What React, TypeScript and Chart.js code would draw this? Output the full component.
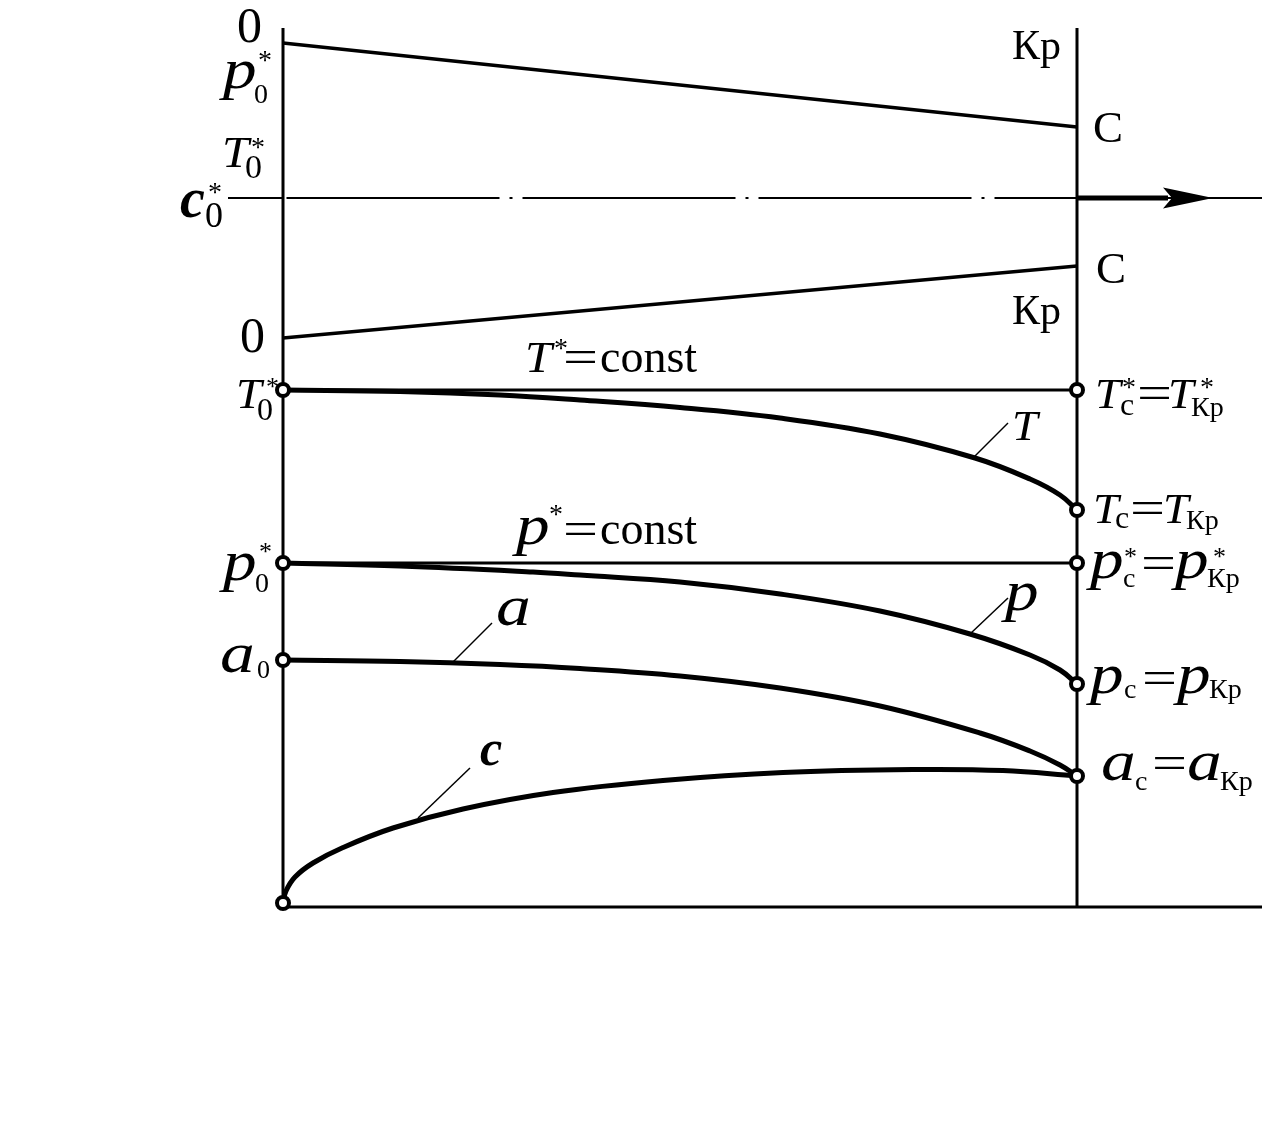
import React, { useEffect, useRef } from 'react';
import { Chart, registerables } from 'chart.js';

Chart.register(...registerables);

// x: distance along the nozzle (0 = inlet section "0", 7.94 = exit section "С" = "Кр")
// y: ordinate of the diagram (0 = base line)
const sectionX = [0, 7.94];
const topWallY = [8.64, 7.8];
const bottomWallY = [5.69, 6.41];
const frameTopY = 8.79;
const axisY = 7.09;
const axisStartX = -0.55;
const axisEndX = 9.79;
const arrowShaftEndX = 8.85;
const arrowHeadX = 9.05;

const tStarY = 5.17;
const tX = [0, 1.17, 2.17, 2.97, 3.97, 4.97, 5.97, 6.92, 7.47, 7.77, 7.94];
const tY = [5.17, 5.155, 5.12, 5.07, 4.995, 4.89, 4.73, 4.49, 4.28, 4.12, 3.97];

const pStarY = 3.44;
const pX = [0, 1.17, 2.5, 2.97, 3.97, 4.97, 5.97, 6.87, 7.47, 7.77, 7.94];
const pY = [3.44, 3.41, 3.35, 3.32, 3.25, 3.13, 2.96, 2.73, 2.52, 2.37, 2.23];

const aX = [0, 1.17, 2.17, 2.97, 3.97, 4.97, 5.97, 6.97, 7.47, 7.77, 7.94];
const aY = [2.47, 2.455, 2.425, 2.385, 2.31, 2.19, 2.01, 1.74, 1.56, 1.42, 1.31];

const cX = [0, 0.03, 0.12, 0.3, 0.6, 1.1, 1.8, 2.7, 3.8, 5.0, 6.3, 7.2, 7.94];
const cY = [0.04, 0.16, 0.3, 0.44, 0.595, 0.79, 0.98, 1.145, 1.265, 1.345, 1.375, 1.365, 1.31];

// leader lines of the curve names: [x0, y0, x1, y1]
const leaderT = [6.9, 4.49, 7.25, 4.84];
const leaderP = [6.87, 2.73, 7.25, 3.09];
const leaderA = [1.7, 2.45, 2.09, 2.84];
const leaderC = [1.35, 0.89, 1.87, 1.39];

type Run = [string, string, number, number, number, number?]; // text, style, size, dx, dy, scaleX
type Label = { x: number; y: number; runs: Run[] };

const EQ = 46;
const EQX = 1.35;
const PS = 56;
const PX = 1.2;
const AS = 58;
const AX = 1.2;
const LABELS: Label[] = [
  { x: -0.46, y: 8.65, runs: [['0', 'r', 50, 0, 0]] },
  { x: -0.6, y: 8.19, runs: [['p', 'i', PS, 0, 0, PX], ['0', 'r', 28, 31, 15], ['*', 'r', 28, 35, -19]] },
  { x: -0.61, y: 7.4, runs: [['T', 'i', 44, 0, 0, 1.1], ['0', 'r', 34, 23, 11], ['*', 'r', 28, 29, -11]] },
  { x: -1.03, y: 6.9, runs: [['c', 'bi', 56, 0, 0], ['0', 'r', 36, 25, 10], ['*', 'r', 28, 28, -16]] },
  { x: 7.29, y: 8.48, runs: [['Кр', 'r', 42, 0, 0]] },
  { x: 8.1, y: 7.65, runs: [['С', 'r', 45, 0, 0]] },
  { x: 8.13, y: 6.24, runs: [['С', 'r', 45, 0, 0]] },
  { x: 7.29, y: 5.83, runs: [['Кр', 'r', 42, 0, 0]] },
  { x: -0.43, y: 5.55, runs: [['0', 'r', 50, 0, 0]] },
  { x: 2.42, y: 5.35, runs: [['T', 'i', 44, 0, 0, 1.1], ['*', 'r', 28, 29, -15], ['=', 'r', EQ, 38, 0, EQX], ['const', 'r', 46, 75, 0]] },
  { x: -0.47, y: 4.99, runs: [['T', 'i', 42, 0, 0, 1.1], ['0', 'r', 32, 21, 12], ['*', 'r', 26, 30, -13]] },
  { x: 8.12, y: 4.99, runs: [['T', 'i', 42, 0, 0, 1.1], ['с', 'r', 32, 25, 7], ['*', 'r', 28, 27, -12], ['=', 'r', EQ, 42, 0, EQX], ['T', 'i', 42, 73, 0, 1.1], ['Кр', 'r', 28, 96, 8], ['*', 'r', 28, 105, -12]] },
  { x: 8.1, y: 3.84, runs: [['T', 'i', 42, 0, 0, 1.1], ['с', 'r', 32, 22, 5], ['=', 'r', EQ, 37, 0, EQX], ['T', 'i', 42, 70, 0, 1.1], ['Кр', 'r', 28, 93, 6]] },
  { x: 7.29, y: 4.67, runs: [['T', 'i', 42, 0, 0, 1.1]] },
  { x: 2.33, y: 3.63, runs: [['p', 'i', PS, 0, 0, PX], ['*', 'r', 28, 33, -21], ['=', 'r', EQ, 47, 0, EQX], ['const', 'r', 46, 84, 0]] },
  { x: -0.6, y: 3.27, runs: [['p', 'i', PS, 0, 0, PX], ['0', 'r', 28, 32, 12], ['*', 'r', 26, 36, -20]] },
  { x: 8.07, y: 3.29, runs: [['p', 'i', PS, 0, 0, PX], ['с', 'r', 28, 33, 9], ['*', 'r', 26, 34, -13], ['=', 'r', EQ, 51, 0, EQX], ['p', 'i', PS, 85, 0, PX], ['Кр', 'r', 28, 117, 9], ['*', 'r', 26, 123, -13]] },
  { x: 7.22, y: 2.97, runs: [['p', 'i', PS, 0, 0, PX]] },
  { x: 2.13, y: 2.82, runs: [['a', 'i', AS, 0, 0, AX]] },
  { x: -0.63, y: 2.35, runs: [['a', 'i', AS, 0, 0, AX], ['0', 'r', 26, 37, 6]] },
  { x: 8.07, y: 2.14, runs: [['p', 'i', PS, 0, 0, PX], ['с', 'r', 28, 34, 5], ['=', 'r', EQ, 52, 0, EQX], ['p', 'i', PS, 87, 0, PX], ['Кр', 'r', 28, 119, 5]] },
  { x: 1.97, y: 1.42, runs: [['c', 'bi', 50, 0, 0]] },
  { x: 8.18, y: 1.27, runs: [['a', 'i', AS, 0, 0, AX], ['с', 'r', 28, 34, 10], ['=', 'r', EQ, 51, -2, EQX], ['a', 'i', AS, 86, 0, AX], ['Кр', 'r', 28, 119, 10]] },
];

const zip = (xs: number[], ys: number[]) => xs.map((x, i) => ({ x, y: ys[i] }));
const seg = (s: number[]) => [{ x: s[0], y: s[1] }, { x: s[2], y: s[3] }];

const textPlugin = {
  id: 'diagramText',
  afterDraw(chart: any) {
    const { ctx, scales } = chart;
    ctx.save();
    ctx.fillStyle = '#000';
    ctx.textBaseline = 'alphabetic';
    ctx.textAlign = 'left';
    for (const lab of LABELS) {
      const px = scales.x.getPixelForValue(lab.x);
      const py = scales.y.getPixelForValue(lab.y);
      for (const [t, f, s, dx, dy, sx] of lab.runs) {
        const st = f === 'i' ? 'italic ' : f === 'bi' ? 'italic bold ' : '';
        ctx.font = `${st}${s}px "Liberation Serif", "Times New Roman", serif`;
        ctx.save();
        ctx.translate(px + dx, py + dy);
        ctx.scale(sx || 1, 1);
        ctx.fillText(t, 0, 0);
        ctx.restore();
      }
    }
    ctx.restore();
  },
};

function makeArrowHead() {
  const c = document.createElement('canvas');
  c.width = 52;
  c.height = 24;
  const g = c.getContext('2d')!;
  g.fillStyle = '#000';
  g.beginPath();
  g.moveTo(1, 1.5);
  g.lineTo(51, 12);
  g.lineTo(1, 22.5);
  g.lineTo(10, 12);
  g.closePath();
  g.fill();
  return c;
}

export default function App() {
  const ref = useRef<HTMLCanvasElement | null>(null);
  useEffect(() => {
    if (!ref.current) return;
    const line = (data: any[], width: number, extra: any = {}) => ({
      type: 'scatter',
      data,
      showLine: true,
      borderColor: '#000',
      backgroundColor: '#000',
      borderWidth: width,
      pointRadius: 0,
      fill: false,
      ...extra,
    });
    const curve = { tension: 0.4, borderCapStyle: 'round' };
    const markers = [
      { x: sectionX[0], y: tStarY },
      { x: sectionX[1], y: tStarY },
      { x: tX[tX.length - 1], y: tY[tY.length - 1] },
      { x: sectionX[0], y: pStarY },
      { x: sectionX[1], y: pStarY },
      { x: pX[pX.length - 1], y: pY[pY.length - 1] },
      { x: aX[0], y: aY[0] },
      { x: aX[aX.length - 1], y: aY[aY.length - 1] },
      { x: cX[0], y: cY[0] },
    ];
    const chart = new Chart(ref.current, {
      type: 'scatter',
      data: {
        datasets: [
          {
            type: 'scatter',
            data: markers,
            showLine: false,
            pointRadius: 6,
            pointBorderWidth: 4,
            pointBackgroundColor: '#fff',
            pointBorderColor: '#000',
          },
          {
            type: 'scatter',
            data: [{ x: arrowHeadX, y: axisY }],
            showLine: false,
            pointStyle: makeArrowHead(),
          },
          line(zip(tX, tY), 5, curve),
          line(zip(pX, pY), 5, curve),
          line(zip(aX, aY), 5, curve),
          line(zip(cX, cY), 5, curve),
          line(zip(sectionX, [tStarY, tStarY]), 3),
          line(zip(sectionX, [pStarY, pStarY]), 3),
          line(zip(sectionX, topWallY), 3.5),
          line(zip(sectionX, bottomWallY), 3.5),
          line(zip([sectionX[0], sectionX[0]], [frameTopY, 0]), 3),
          line(zip([sectionX[1], sectionX[1]], [frameTopY, 0]), 3),
          line(zip([sectionX[0], axisEndX], [0, 0]), 3),
          line(zip([axisStartX, sectionX[0]], [axisY, axisY]), 2),
          line(zip(sectionX, [axisY, axisY]), 2, { borderDash: [213, 10, 3, 10], borderDashOffset: -3.5 }),
          line(zip([sectionX[1], arrowShaftEndX], [axisY, axisY]), 5),
          line(zip([arrowShaftEndX, axisEndX], [axisY, axisY]), 2),
          line(seg(leaderT), 1.5),
          line(seg(leaderP), 1.5),
          line(seg(leaderA), 1.5),
          line(seg(leaderC), 1.5),
        ] as any,
      },
      options: {
        animation: false,
        responsive: false,
        events: [],
        layout: { padding: 0, autoPadding: false },
        plugins: { legend: { display: false }, tooltip: { enabled: false }, title: { display: false } },
        scales: {
          x: { type: 'linear', min: -2.83, max: 9.97, display: false },
          y: { type: 'linear', min: -2.27, max: 9.07, display: false },
        },
      },
      plugins: [textPlugin],
    } as any);
    return () => chart.destroy();
  }, []);
  return (
    <div style={{ position: 'absolute', left: 0, top: 0, width: 1280, height: 1134, background: '#fff' }}>
      <canvas ref={ref} width={1280} height={1134} style={{ display: 'block' }} />
    </div>
  );
}
